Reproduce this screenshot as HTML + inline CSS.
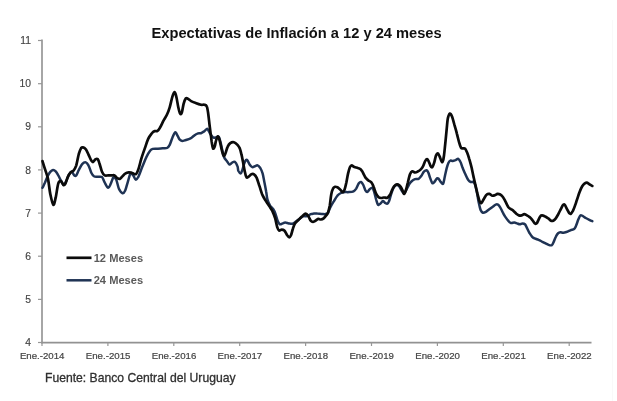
<!DOCTYPE html>
<html><head><meta charset="utf-8"><title>Expectativas de Inflación</title>
<style>
html,body{margin:0;padding:0;background:#fff;}
body{width:617px;height:401px;overflow:hidden;font-family:"Liberation Sans",sans-serif;}
svg{display:block;}
</style></head><body>
<svg width="617" height="401" viewBox="0 0 617 401" font-family="Liberation Sans, sans-serif">
<rect width="617" height="401" fill="#fff"/>
<line x1="612.5" y1="20" x2="612.5" y2="401" stroke="#f9f9f9" stroke-width="1"/>
<text x="151.5" y="37.5" font-size="15" font-weight="bold" fill="#111" textLength="290.2" lengthAdjust="spacingAndGlyphs">Expectativas de Inflación a 12 y 24 meses</text>
<g stroke="#979797" stroke-width="1.2" fill="none">
<line x1="42" y1="39.5" x2="42" y2="343.4" stroke-width="1.7"/>
<line x1="41.2" y1="342.6" x2="591.5" y2="342.6" stroke-width="1.8" stroke="#929292"/>
<line x1="38" y1="342.5" x2="42" y2="342.5"/><line x1="38" y1="299.4" x2="42" y2="299.4"/><line x1="38" y1="256.2" x2="42" y2="256.2"/><line x1="38" y1="213.1" x2="42" y2="213.1"/><line x1="38" y1="169.9" x2="42" y2="169.9"/><line x1="38" y1="126.8" x2="42" y2="126.8"/><line x1="38" y1="83.7" x2="42" y2="83.7"/><line x1="38" y1="40.5" x2="42" y2="40.5"/>
<line x1="42.0" y1="342.5" x2="42.0" y2="346"/><line x1="107.9" y1="342.5" x2="107.9" y2="346"/><line x1="173.8" y1="342.5" x2="173.8" y2="346"/><line x1="239.7" y1="342.5" x2="239.7" y2="346"/><line x1="305.6" y1="342.5" x2="305.6" y2="346"/><line x1="371.5" y1="342.5" x2="371.5" y2="346"/><line x1="437.4" y1="342.5" x2="437.4" y2="346"/><line x1="503.3" y1="342.5" x2="503.3" y2="346"/><line x1="569.2" y1="342.5" x2="569.2" y2="346"/>
</g>
<g font-size="10.3" fill="#444" stroke="#444" stroke-width="0.15"><text x="31" y="346.1" text-anchor="end">4</text><text x="31" y="303.0" text-anchor="end">5</text><text x="31" y="259.8" text-anchor="end">6</text><text x="31" y="216.7" text-anchor="end">7</text><text x="31" y="173.5" text-anchor="end">8</text><text x="31" y="130.4" text-anchor="end">9</text><text x="31" y="87.3" text-anchor="end">10</text><text x="31" y="44.1" text-anchor="end">11</text></g>
<g font-size="9.3" fill="#444" stroke="#444" stroke-width="0.2"><text x="42.2" y="359.1" text-anchor="middle" textLength="44.6" lengthAdjust="spacingAndGlyphs">Ene.-2014</text><text x="108.1" y="359.1" text-anchor="middle" textLength="44.6" lengthAdjust="spacingAndGlyphs">Ene.-2015</text><text x="174.0" y="359.1" text-anchor="middle" textLength="44.6" lengthAdjust="spacingAndGlyphs">Ene.-2016</text><text x="239.9" y="359.1" text-anchor="middle" textLength="44.6" lengthAdjust="spacingAndGlyphs">Ene.-2017</text><text x="305.8" y="359.1" text-anchor="middle" textLength="44.6" lengthAdjust="spacingAndGlyphs">Ene.-2018</text><text x="371.7" y="359.1" text-anchor="middle" textLength="44.6" lengthAdjust="spacingAndGlyphs">Ene.-2019</text><text x="437.6" y="359.1" text-anchor="middle" textLength="44.6" lengthAdjust="spacingAndGlyphs">Ene.-2020</text><text x="503.5" y="359.1" text-anchor="middle" textLength="44.6" lengthAdjust="spacingAndGlyphs">Ene.-2021</text><text x="569.4" y="359.1" text-anchor="middle" textLength="44.6" lengthAdjust="spacingAndGlyphs">Ene.-2022</text></g>
<path d="M42.5 187.8C42.9 187.0 44.1 184.4 45.0 182.5C45.8 180.6 46.7 178.0 47.6 176.3C48.5 174.5 49.4 172.8 50.3 171.8C51.2 170.8 52.1 170.1 53.0 170.0C53.9 169.9 54.8 170.4 55.7 171.3C56.5 172.2 57.4 173.8 58.3 175.4C59.2 176.9 60.1 179.1 61.0 180.7C61.9 182.3 62.8 184.8 63.7 184.8C64.6 184.8 65.5 182.4 66.4 180.7C67.2 179.0 68.1 176.0 69.0 174.5C69.9 173.0 70.8 171.7 71.7 171.8C72.6 171.9 73.6 174.8 74.4 175.4C75.1 176.0 75.4 176.3 76.2 175.4C76.9 174.5 77.8 171.9 78.8 170.0C79.9 168.1 81.2 165.1 82.4 163.8C83.6 162.5 84.9 162.1 86.0 162.4C87.0 162.6 87.7 163.8 88.6 165.6C89.5 167.3 90.4 170.9 91.3 172.7C92.2 174.5 92.9 175.6 94.0 176.3C95.0 176.9 96.2 176.6 97.6 176.8C98.9 176.9 100.8 176.2 102.0 177.1C103.2 178.1 103.6 180.7 104.7 182.5C105.7 184.3 107.2 187.7 108.2 187.8C109.3 188.0 110.0 185.2 110.9 183.4C111.8 181.6 112.7 177.7 113.6 177.1C114.5 176.6 115.4 177.9 116.3 179.8C117.2 181.8 117.9 186.5 118.9 188.7C120.0 191.0 121.5 192.9 122.5 193.2C123.6 193.5 124.3 192.5 125.2 190.5C126.1 188.6 127.0 184.4 127.9 181.6C128.8 178.8 129.6 174.6 130.5 173.6C131.4 172.5 132.3 174.3 133.2 175.4C134.1 176.4 135.0 179.7 135.9 179.8C136.8 180.0 137.5 178.3 138.6 176.3C139.6 174.2 140.8 170.6 142.1 167.3C143.5 164.1 145.2 159.4 146.6 156.6C147.9 153.9 149.1 152.0 150.1 150.7C151.1 149.4 151.6 149.2 152.8 148.9C154.0 148.6 155.6 148.8 157.2 148.7C158.9 148.6 161.0 148.5 162.6 148.3C164.2 148.2 165.9 148.6 167.0 148.0C168.2 147.4 168.8 146.5 169.7 144.8C170.6 143.1 171.5 139.7 172.4 137.7C173.3 135.6 174.3 132.7 175.1 132.3C175.9 131.9 176.5 133.8 177.2 135.0C178.0 136.2 178.7 138.5 179.5 139.4C180.4 140.4 181.2 140.8 182.2 140.9C183.2 140.9 184.4 140.4 185.8 140.0C187.1 139.6 188.9 139.2 190.2 138.5C191.6 137.9 192.6 136.7 193.8 135.9C195.0 135.0 196.2 134.0 197.4 133.6C198.5 133.1 199.7 133.6 200.9 133.2C202.1 132.8 203.4 131.8 204.5 131.1C205.5 130.3 206.4 128.7 207.2 128.7C207.9 128.8 208.3 130.4 208.9 131.4C209.6 132.5 210.3 133.9 211.1 135.0C211.8 136.0 212.6 137.3 213.4 137.7C214.2 138.0 215.2 137.4 216.1 137.3C217.0 137.1 218.0 136.0 218.8 136.8C219.5 137.6 219.9 139.9 220.5 142.1C221.1 144.4 221.7 147.7 222.3 150.2C222.9 152.8 223.4 155.6 224.1 157.3C224.8 159.1 225.9 159.7 226.8 160.9C227.7 162.1 228.6 164.2 229.4 164.5C230.3 164.8 231.2 163.1 232.1 162.7C233.0 162.2 233.9 161.2 234.8 161.8C235.7 162.4 236.9 164.8 237.5 166.3C238.1 167.7 237.8 169.5 238.3 170.7C238.9 171.9 240.0 173.5 240.7 173.4C241.3 173.2 241.8 171.5 242.4 169.8C243.0 168.2 243.6 165.2 244.2 163.6C244.8 161.9 245.4 160.5 246.0 160.0C246.6 159.6 247.2 160.2 247.8 160.9C248.4 161.7 248.8 163.4 249.6 164.5C250.3 165.5 251.4 166.9 252.2 167.1C253.1 167.4 254.0 166.6 254.9 166.3C255.8 166.0 256.7 165.1 257.6 165.4C258.5 165.7 259.4 166.7 260.3 168.0C261.1 169.4 261.9 171.0 262.6 173.4C263.3 175.8 263.8 179.3 264.4 182.3C265.0 185.3 265.6 188.4 266.1 191.2C266.7 194.1 266.7 196.9 267.4 199.3C268.1 201.7 269.1 203.9 270.1 205.6C271.1 207.2 272.4 207.8 273.3 209.1C274.2 210.5 274.7 211.7 275.4 213.6C276.1 215.5 276.8 218.9 277.6 220.7C278.3 222.5 279.0 223.8 279.9 224.3C280.7 224.7 281.7 223.7 282.6 223.4C283.4 223.1 284.2 222.5 285.2 222.5C286.3 222.5 287.6 223.2 288.8 223.4C290.0 223.6 291.2 224.0 292.4 223.7C293.5 223.4 294.7 222.4 295.9 221.6C297.1 220.8 298.3 219.8 299.5 218.9C300.7 218.0 302.0 216.7 303.1 216.3C304.1 215.8 304.9 216.3 305.7 216.3C306.5 216.2 307.0 216.3 307.9 215.9C308.7 215.5 309.7 214.5 310.7 214.1C311.7 213.7 312.7 213.7 313.8 213.6C314.9 213.5 316.0 213.5 317.3 213.6C318.7 213.6 320.4 213.9 321.8 213.9C323.1 214.0 324.3 214.3 325.3 214.1C326.4 213.9 327.2 213.8 328.0 212.7C328.8 211.6 329.3 209.2 330.3 207.3C331.3 205.4 332.7 203.0 333.9 201.1C335.1 199.1 336.2 197.1 337.4 195.7C338.6 194.4 339.8 193.6 341.0 193.0C342.2 192.4 343.2 192.3 344.6 192.1C345.9 192.0 347.5 192.3 349.0 192.1C350.5 192.0 352.3 191.9 353.5 191.3C354.7 190.7 355.3 189.9 356.2 188.6C357.0 187.2 358.0 184.3 358.8 183.2C359.7 182.1 360.4 181.7 361.1 182.0C361.9 182.3 362.6 183.6 363.3 185.0C364.0 186.4 364.8 189.2 365.4 190.4C366.1 191.6 366.5 192.3 367.2 192.1C367.9 192.0 368.7 190.2 369.5 189.5C370.4 188.7 371.5 187.4 372.2 187.7C372.9 188.0 373.3 189.3 374.0 191.3C374.6 193.2 375.5 197.1 376.1 199.3C376.8 201.5 377.2 203.9 377.9 204.6C378.6 205.4 379.4 204.3 380.2 203.7C381.1 203.1 382.1 201.2 382.9 201.1C383.7 200.9 384.3 202.4 385.0 202.8C385.8 203.3 386.7 204.0 387.4 203.7C388.0 203.4 388.5 202.5 389.1 201.1C389.7 199.6 390.2 197.1 390.9 194.8C391.7 192.6 392.7 189.3 393.6 187.7C394.5 186.1 395.4 185.3 396.3 185.0C397.2 184.7 398.1 185.0 398.9 185.9C399.8 186.8 400.8 189.1 401.6 190.4C402.5 191.6 403.2 193.6 403.9 193.6C404.7 193.6 405.3 191.8 406.1 190.4C406.9 188.9 407.9 186.5 408.8 185.0C409.6 183.5 410.4 182.4 411.4 181.5C412.5 180.5 413.8 179.6 415.0 179.1C416.2 178.7 417.5 179.3 418.6 178.8C419.6 178.3 420.3 177.3 421.2 176.1C422.1 174.9 423.0 172.6 423.9 171.6C424.8 170.7 425.8 170.1 426.6 170.2C427.3 170.4 427.7 171.3 428.3 172.5C428.9 173.8 429.4 176.1 430.1 177.9C430.8 179.7 431.7 182.6 432.4 183.2C433.2 183.8 434.0 182.3 434.8 181.5C435.5 180.6 436.2 178.9 436.9 178.4C437.5 178.0 438.0 178.2 438.7 178.8C439.3 179.4 440.1 181.2 440.8 182.0C441.6 182.8 442.5 184.7 443.1 183.8C443.8 182.8 444.3 178.7 444.9 176.1C445.5 173.5 446.1 170.3 446.7 168.1C447.3 165.9 447.9 164.0 448.5 162.7C449.1 161.5 449.5 160.9 450.3 160.6C451.0 160.3 452.0 161.0 452.9 160.9C453.8 160.9 454.7 160.4 455.6 160.1C456.5 159.7 457.5 158.5 458.3 158.8C459.1 159.1 459.7 160.3 460.4 161.8C461.2 163.4 461.9 166.0 462.7 168.1C463.6 170.2 464.5 172.4 465.4 174.3C466.3 176.3 467.2 178.4 468.1 179.7C469.0 180.9 469.9 181.6 470.8 182.0C471.7 182.4 472.7 181.5 473.4 182.0C474.2 182.5 474.6 183.2 475.2 185.0C475.8 186.9 476.4 190.1 477.0 193.0C477.6 196.0 478.2 200.0 478.8 202.8C479.4 205.7 479.9 208.3 480.6 210.0C481.3 211.6 482.0 212.4 482.9 212.7C483.8 212.9 484.8 212.4 485.9 211.8C487.0 211.2 488.3 210.0 489.5 209.1C490.7 208.2 492.0 207.2 493.1 206.4C494.1 205.7 494.9 204.9 495.7 204.6C496.5 204.3 497.1 204.2 497.9 204.6C498.6 205.1 499.4 206.0 500.2 207.3C501.0 208.6 502.0 211.0 502.9 212.7C503.8 214.3 504.6 215.8 505.5 217.1C506.4 218.4 507.3 219.7 508.2 220.7C509.1 221.7 509.8 222.7 510.9 223.0C511.9 223.3 513.4 222.4 514.4 222.5C515.4 222.6 516.2 223.1 517.1 223.4C518.0 223.7 518.9 224.3 519.8 224.3C520.7 224.3 521.5 223.4 522.4 223.4C523.3 223.4 524.3 223.4 525.1 224.3C525.9 225.2 526.5 227.3 527.3 228.7C528.0 230.2 528.7 231.9 529.6 233.2C530.4 234.5 531.4 235.9 532.2 236.8C533.1 237.7 533.9 238.0 534.9 238.5C536.0 239.0 537.3 239.3 538.5 239.8C539.7 240.3 540.9 241.0 542.0 241.6C543.2 242.2 544.4 242.8 545.6 243.4C546.8 244.0 548.1 244.8 549.2 245.1C550.2 245.4 551.1 245.6 551.9 245.1C552.6 244.6 553.0 243.5 553.6 242.1C554.3 240.7 555.0 238.2 555.8 236.8C556.5 235.3 557.3 233.9 558.1 233.2C558.9 232.5 559.5 232.4 560.4 232.3C561.3 232.2 562.3 232.9 563.4 232.8C564.5 232.7 565.8 232.2 567.0 231.8C568.2 231.3 569.4 230.6 570.6 230.2C571.8 229.7 573.2 229.8 574.1 229.1C575.0 228.4 575.2 227.6 575.9 226.1C576.6 224.5 577.5 221.6 578.2 219.8C579.0 218.0 579.7 216.0 580.4 215.4C581.1 214.7 581.6 215.5 582.5 215.9C583.4 216.3 584.6 217.4 585.7 218.0C586.9 218.7 588.2 219.3 589.3 219.8C590.4 220.4 591.8 221.0 592.3 221.2" fill="none" stroke="#1f3354" stroke-width="2.5" stroke-linejoin="round" stroke-linecap="round"/>
<path d="M42.5 161.1C42.9 162.4 44.0 166.2 45.0 169.1C45.9 172.1 47.1 174.8 48.0 178.9C48.9 183.1 49.4 189.8 50.3 194.1C51.2 198.4 52.4 204.2 53.3 204.8C54.2 205.4 54.8 201.2 55.7 197.7C56.5 194.1 57.4 186.1 58.3 183.4C59.2 180.7 60.1 181.0 61.0 181.2C61.9 181.5 62.9 184.8 63.7 185.2C64.4 185.5 64.7 184.9 65.5 183.4C66.2 181.9 67.2 178.1 68.1 176.3C69.0 174.4 69.9 173.3 70.8 172.3C71.7 171.4 72.6 171.7 73.5 170.6C74.4 169.4 75.3 168.3 76.2 165.6C77.0 162.8 78.0 156.9 78.8 154.0C79.7 151.1 80.4 149.2 81.1 148.1C81.9 147.0 82.5 147.1 83.3 147.4C84.1 147.6 85.1 148.3 86.0 149.5C86.9 150.8 87.7 153.0 88.6 154.9C89.5 156.7 90.6 159.4 91.3 160.6C92.1 161.8 92.4 162.2 93.1 162.0C93.8 161.8 94.7 159.8 95.4 159.3C96.2 158.8 96.9 158.4 97.6 159.0C98.2 159.6 98.6 160.7 99.3 162.9C100.1 165.0 101.1 169.7 102.0 171.8C102.9 173.9 103.6 174.8 104.7 175.4C105.7 176.0 107.1 175.4 108.2 175.4C109.4 175.4 110.8 175.4 111.8 175.4C112.9 175.4 113.6 174.9 114.5 175.4C115.4 175.8 116.3 177.4 117.2 178.0C118.1 178.6 118.9 179.2 119.8 178.9C120.7 178.6 121.6 177.1 122.5 176.3C123.4 175.4 124.1 174.2 125.2 173.6C126.2 172.9 127.6 172.4 128.8 172.3C129.9 172.2 131.1 172.8 132.3 173.0C133.5 173.3 134.8 174.8 135.9 174.1C136.9 173.4 137.6 171.4 138.5 168.9C139.4 166.4 140.2 162.5 141.2 159.1C142.2 155.7 143.6 151.8 144.8 148.4C146.0 145.0 147.1 141.2 148.3 138.6C149.5 136.1 150.9 134.5 151.9 133.2C152.9 131.9 153.7 131.4 154.6 131.1C155.5 130.7 156.4 131.6 157.2 131.1C158.1 130.5 158.9 129.6 159.9 127.8C161.0 126.1 162.3 122.9 163.5 120.7C164.7 118.5 166.0 116.7 167.0 114.5C168.1 112.2 168.8 110.3 169.7 107.3C170.6 104.4 171.6 99.2 172.4 96.6C173.2 94.1 174.0 92.0 174.7 92.2C175.4 92.3 175.9 95.0 176.5 97.5C177.1 100.1 177.7 104.7 178.3 107.3C178.9 110.0 179.5 112.7 180.1 113.6C180.7 114.5 181.3 114.3 181.8 112.7C182.4 111.1 183.0 106.2 183.6 103.8C184.3 101.4 185.1 99.3 185.8 98.4C186.5 97.6 187.0 98.3 187.9 98.8C188.8 99.2 189.8 100.4 191.1 101.1C192.4 101.8 193.9 102.3 195.6 102.9C197.2 103.5 199.4 104.3 200.9 104.7C202.4 105.0 203.5 104.5 204.5 104.8C205.5 105.1 206.2 105.1 206.8 106.5C207.4 107.8 207.5 109.3 208.1 112.7C208.6 116.1 209.2 122.2 209.8 127.0C210.4 131.7 211.1 137.6 211.6 141.2C212.2 144.8 212.5 147.5 213.0 148.4C213.6 149.3 214.1 148.0 214.7 146.6C215.2 145.3 215.5 142.1 216.1 140.4C216.6 138.7 217.3 136.3 217.9 136.3C218.5 136.3 219.0 138.4 219.6 140.4C220.2 142.4 220.8 145.9 221.4 148.4C222.1 151.0 222.9 154.7 223.6 155.6C224.2 156.5 224.7 155.3 225.3 153.8C226.0 152.3 226.8 148.4 227.7 146.6C228.5 144.9 229.3 143.8 230.3 143.1C231.4 142.3 232.7 141.9 233.9 142.2C235.1 142.5 236.5 143.8 237.5 144.9C238.4 145.9 239.1 146.8 239.8 148.4C240.4 150.1 241.0 152.4 241.5 154.7C242.1 156.9 242.4 159.0 243.0 161.8C243.5 164.6 244.2 169.0 244.8 171.6C245.3 174.2 245.9 176.5 246.5 177.3C247.2 178.1 247.9 177.1 248.7 176.6C249.5 176.1 250.5 174.7 251.4 174.3C252.2 173.9 253.1 173.7 254.0 174.3C254.9 174.9 255.8 175.9 256.7 177.8C257.6 179.8 258.5 183.2 259.4 185.9C260.3 188.5 261.2 191.7 262.0 193.9C262.9 196.1 264.0 197.9 264.7 199.2C265.5 200.6 265.6 200.6 266.5 202.0C267.4 203.3 269.0 205.7 270.1 207.3C271.1 209.0 271.9 210.0 272.7 211.8C273.6 213.6 274.3 215.5 275.1 218.0C275.8 220.6 276.5 224.9 277.2 227.0C277.9 229.0 278.2 230.1 279.0 230.5C279.7 231.0 280.8 229.6 281.7 229.6C282.6 229.6 283.4 229.6 284.3 230.5C285.2 231.4 286.2 233.8 287.0 235.0C287.8 236.1 288.6 237.3 289.3 237.3C290.0 237.3 290.5 236.4 291.1 235.0C291.7 233.6 292.2 230.7 292.9 228.7C293.5 226.8 294.1 224.9 295.0 223.4C296.0 221.9 297.4 221.0 298.6 219.8C299.8 218.6 301.0 217.3 302.2 216.3C303.4 215.2 304.7 213.6 305.7 213.6C306.8 213.6 307.6 215.1 308.4 216.3C309.2 217.4 310.0 219.8 310.7 220.7C311.5 221.7 312.1 222.0 312.9 222.0C313.7 222.0 314.6 221.2 315.5 220.7C316.4 220.2 317.3 219.1 318.2 218.9C319.1 218.7 320.0 219.6 320.9 219.5C321.8 219.4 322.7 219.1 323.6 218.4C324.4 217.7 325.5 216.3 326.2 215.4C327.0 214.4 327.4 214.3 328.0 212.7C328.6 211.0 329.2 208.5 329.8 205.5C330.3 202.5 330.7 197.6 331.2 194.8C331.7 192.0 332.3 189.9 333.0 188.6C333.6 187.2 334.4 187.0 335.1 186.8C335.9 186.6 336.6 186.9 337.4 187.3C338.3 187.8 339.2 188.7 340.1 189.5C341.0 190.3 342.0 192.1 342.8 192.1C343.5 192.1 344.0 191.1 344.6 189.5C345.2 187.8 345.8 185.0 346.4 182.3C346.9 179.7 347.5 176.0 348.1 173.4C348.7 170.9 349.3 168.5 349.9 167.2C350.5 165.9 351.0 165.4 351.7 165.4C352.4 165.4 353.3 166.6 354.4 167.0C355.4 167.4 356.9 167.5 357.9 167.9C359.0 168.3 359.9 168.7 360.6 169.3C361.4 170.0 361.8 170.7 362.4 171.6C363.0 172.6 363.6 174.1 364.2 175.2C364.8 176.3 365.2 177.4 366.0 178.2C366.7 179.1 367.7 179.9 368.6 180.6C369.5 181.2 370.5 181.3 371.3 182.3C372.1 183.4 372.9 185.0 373.6 186.8C374.4 188.6 375.0 191.3 375.8 193.0C376.6 194.7 377.6 196.1 378.4 197.0C379.3 197.8 380.2 197.9 381.1 198.0C382.0 198.1 382.8 197.6 383.8 197.5C384.8 197.4 386.3 198.1 387.4 197.7C388.4 197.2 389.1 196.3 390.0 194.8C390.9 193.3 391.8 190.2 392.7 188.6C393.6 186.9 394.5 185.7 395.4 185.0C396.3 184.3 397.2 184.2 398.1 184.5C398.9 184.8 399.9 185.7 400.7 186.8C401.5 187.9 402.3 190.1 402.9 191.3C403.5 192.4 403.8 194.2 404.3 193.9C404.8 193.6 405.5 191.4 406.1 189.5C406.7 187.5 407.2 184.9 407.9 182.3C408.5 179.8 409.3 176.2 410.0 174.3C410.7 172.5 411.5 171.6 412.3 171.3C413.1 171.0 414.1 172.5 415.0 172.5C415.9 172.6 416.8 172.1 417.7 171.6C418.6 171.2 419.4 170.8 420.3 169.9C421.2 169.0 422.2 167.8 423.0 166.3C423.8 164.8 424.6 162.1 425.3 160.9C426.0 159.7 426.5 158.9 427.1 159.1C427.7 159.2 428.3 160.6 428.9 161.8C429.5 162.9 430.1 165.3 430.7 166.2C431.2 167.1 431.8 167.7 432.4 167.1C433.0 166.5 433.6 164.6 434.2 162.7C434.8 160.7 435.4 157.1 436.0 155.5C436.6 154.0 437.2 153.2 437.8 153.4C438.4 153.5 439.0 155.2 439.6 156.4C440.2 157.7 440.8 160.0 441.4 160.9C441.9 161.8 442.2 162.7 442.6 161.8C443.0 160.9 443.6 158.9 444.0 155.5C444.5 152.1 445.0 145.7 445.5 141.3C445.9 136.8 446.3 132.6 446.7 128.8C447.1 124.9 447.4 120.6 447.9 118.1C448.5 115.6 449.1 113.9 449.7 113.6C450.4 113.3 451.1 114.4 451.9 116.3C452.7 118.2 453.7 122.2 454.5 125.2C455.4 128.2 456.3 131.2 457.0 134.1C457.8 137.0 458.5 140.4 459.2 142.7C459.8 144.9 460.3 146.7 461.0 147.7C461.6 148.6 462.2 148.2 462.9 148.4C463.6 148.6 464.4 148.0 465.1 148.7C465.8 149.5 466.5 151.1 467.2 152.8C467.9 154.6 468.6 156.6 469.3 159.1C470.1 161.6 471.0 165.2 471.7 168.0C472.3 170.8 472.8 173.4 473.4 176.1C474.0 178.8 474.5 181.2 475.2 184.1C475.9 187.1 476.8 191.0 477.5 193.9C478.3 196.8 479.0 200.1 479.7 201.6C480.3 203.1 480.7 203.4 481.5 202.8C482.2 202.3 483.2 199.8 484.1 198.4C485.0 197.0 485.9 195.2 486.8 194.5C487.7 193.7 488.6 193.7 489.5 193.9C490.4 194.1 491.3 195.5 492.2 195.7C493.1 195.9 493.9 195.5 494.8 195.2C495.7 194.9 496.6 194.1 497.5 193.9C498.4 193.8 499.3 194.0 500.2 194.5C501.1 195.0 502.0 195.8 502.9 197.0C503.8 198.2 504.6 199.9 505.5 201.6C506.4 203.3 507.3 205.7 508.2 206.9C509.1 208.2 510.0 208.4 510.9 209.1C511.8 209.7 512.6 210.2 513.5 210.9C514.4 211.7 515.3 212.8 516.2 213.6C517.1 214.3 518.0 215.1 518.9 215.4C519.8 215.7 520.7 215.6 521.5 215.4C522.4 215.2 523.3 214.1 524.2 214.1C525.1 214.1 526.0 214.9 526.9 215.4C527.8 215.9 528.7 216.4 529.6 217.1C530.5 217.9 531.4 218.8 532.2 219.8C533.1 220.9 534.2 222.8 534.9 223.4C535.7 224.0 536.1 224.0 536.7 223.4C537.3 222.8 537.9 221.0 538.5 219.8C539.1 218.6 539.7 217.0 540.3 216.3C540.9 215.5 541.3 215.4 542.0 215.4C542.8 215.4 543.7 215.8 544.7 216.3C545.8 216.8 547.2 217.7 548.3 218.4C549.3 219.1 550.1 220.3 551.0 220.7C551.8 221.1 552.5 221.0 553.3 220.7C554.0 220.4 554.6 220.0 555.4 218.9C556.2 217.9 557.2 216.1 558.1 214.5C559.0 212.8 560.0 210.7 560.8 209.1C561.6 207.6 562.3 205.9 562.9 205.2C563.6 204.5 564.0 204.0 564.7 204.7C565.4 205.3 566.2 207.7 567.0 209.1C567.8 210.6 568.6 212.5 569.3 213.2C570.0 214.0 570.5 214.0 571.1 213.6C571.7 213.2 572.2 212.2 572.9 210.9C573.5 209.6 574.4 207.3 575.0 205.6C575.7 203.8 576.1 202.4 576.8 200.2C577.6 198.0 578.6 194.5 579.5 192.2C580.4 189.9 581.3 187.8 582.2 186.3C583.1 184.8 584.0 183.9 584.8 183.3C585.7 182.7 586.4 182.6 587.2 182.7C587.9 182.9 588.4 183.6 589.3 184.2C590.2 184.7 591.8 185.7 592.3 185.9" fill="none" stroke="#0b0b0b" stroke-width="2.7" stroke-linejoin="round" stroke-linecap="round"/>
<line x1="66.5" y1="257.8" x2="91.5" y2="257.8" stroke="#0b0b0b" stroke-width="2.7"/>
<line x1="66.5" y1="280.3" x2="91.5" y2="280.3" stroke="#1f3354" stroke-width="2.5"/>
<g font-size="10.2" font-weight="bold" fill="#5a5a5a">
<text x="93.7" y="261.8" textLength="49.4" lengthAdjust="spacingAndGlyphs">12 Meses</text>
<text x="93.7" y="284.2" textLength="49.4" lengthAdjust="spacingAndGlyphs">24 Meses</text>
</g>
<text x="45" y="381.7" font-size="12.4" fill="#303030" stroke="#303030" stroke-width="0.3" textLength="190.5" lengthAdjust="spacingAndGlyphs">Fuente: Banco Central del Uruguay</text>
</svg>
</body></html>
